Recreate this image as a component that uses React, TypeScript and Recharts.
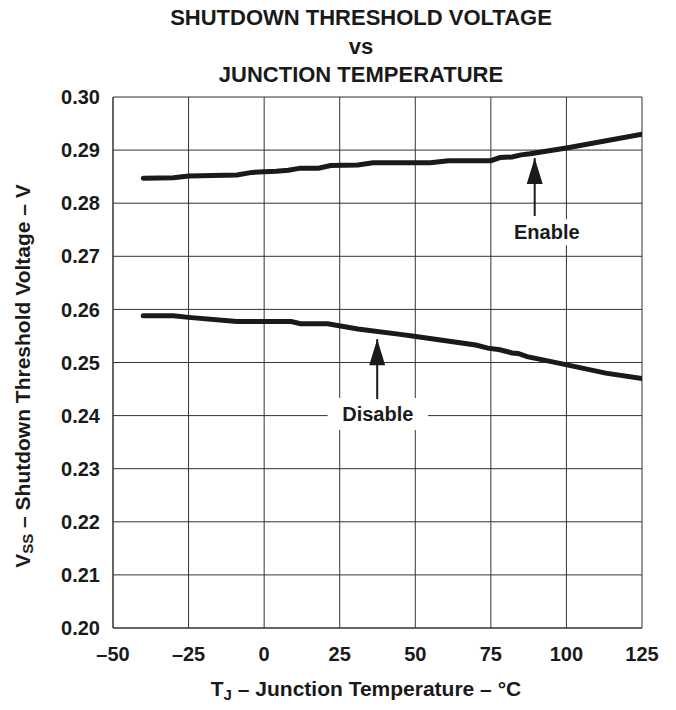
import {
  CartesianGrid,
  Customized,
  Line,
  LineChart,
  ReferenceArea,
  ReferenceDot,
  ReferenceLine,
  XAxis,
  YAxis,
} from "recharts";

// junction temperature (°C) vs shutdown threshold voltage (V)
const enableTemps = [-40, -30, -25, -9, -4, 0, 4, 8, 12, 18, 22, 31, 36, 55, 61, 75, 78, 82, 85, 88, 100, 125];
const enableVolts = [
  0.2847, 0.2848, 0.2851, 0.2853, 0.2858, 0.2859, 0.286, 0.2862, 0.2866, 0.2866, 0.2871,
  0.2872, 0.2876, 0.2876, 0.288, 0.288, 0.2886, 0.2887, 0.2891, 0.2893, 0.2904, 0.293,
];

const disableTemps = [-40, -30, -25, -9, 9, 12, 21, 31, 45, 49, 70, 74, 78, 82, 84, 87, 99, 113, 125];
const disableVolts = [
  0.2588, 0.2588, 0.2585, 0.2577, 0.2577, 0.2573, 0.2573, 0.2563, 0.2553, 0.255, 0.2533,
  0.2527, 0.2524, 0.2518, 0.2517, 0.2511, 0.2497, 0.248, 0.247,
];

const xTicks = [-50, -25, 0, 25, 50, 75, 100, 125];
const yTicks = [0.2, 0.21, 0.22, 0.23, 0.24, 0.25, 0.26, 0.27, 0.28, 0.29, 0.3];

const titleLines = ["SHUTDOWN THRESHOLD VOLTAGE", "vs", "JUNCTION TEMPERATURE"];

// arrow annotations, in data units
const annotations = [
  { text: "Enable", t: 89.5, tip: 0.2885, tail: 0.2776, box: [81, 106, 0.2721, 0.277] },
  { text: "Disable", t: 37.4, tip: 0.2544, tail: 0.2431, box: [21, 54.2, 0.2373, 0.2433] },
];

const enableData = enableTemps.map((t, i) => ({ t, v: enableVolts[i] }));
const disableData = disableTemps.map((t, i) => ({ t, v: disableVolts[i] }));

const FONT = "'Liberation Sans', Arial, Helvetica, sans-serif";
const INK = "#1a1a1a";
const GRID = "#333";

const fmtX = (v: number) => (v < 0 ? `\u2013${Math.abs(v)}` : `${v}`);

const ArrowHead = (props: any) => {
  const { cx, cy } = props;
  return <polygon points={`${cx},${cy} ${cx - 8},${cy + 26} ${cx + 8},${cy + 26}`} fill={INK} />;
};

const Texts = () => (
  <g fontFamily={FONT} fontWeight="bold" fill={INK}>
    {titleLines.map((line, i) => (
      <text key={line} x={361} y={[25, 54, 82][i]} textAnchor="middle" fontSize={22}>
        {line}
      </text>
    ))}
    <text x={30} y={376} textAnchor="middle" fontSize={21} transform="rotate(-90 30 376)">
      V
      <tspan fontSize={15} dy={3}>SS</tspan>
      <tspan dy={-3}> – Shutdown Threshold Voltage – V</tspan>
    </text>
    <text x={366} y={696} textAnchor="middle" fontSize={21}>
      T
      <tspan fontSize={15} dy={4}>J</tspan>
      <tspan dy={-4}> – Junction Temperature – °C</tspan>
    </text>
  </g>
);

const App = () => {
  return (
    <div style={{ position: "absolute", left: 0, top: 0, background: "#fff" }}>
      <LineChart width={676} height={710} margin={{ top: 97, right: 34, bottom: 22, left: 0 }}>
        <CartesianGrid stroke={GRID} strokeWidth={1} />
        <XAxis
          type="number"
          dataKey="t"
          domain={[-50, 125]}
          ticks={xTicks}
          tickFormatter={fmtX}
          height={60}
          tickSize={0}
          tickMargin={19}
          axisLine={{ stroke: GRID }}
          tick={{ fontFamily: FONT, fontWeight: "bold", fontSize: 20, fill: INK }}
          allowDataOverflow
        />
        <YAxis
          type="number"
          dataKey="v"
          domain={[0.2, 0.3]}
          ticks={yTicks}
          tickFormatter={(v: number) => v.toFixed(2)}
          width={113}
          tickSize={0}
          tickMargin={13}
          axisLine={{ stroke: GRID }}
          tick={{ fontFamily: FONT, fontWeight: "bold", fontSize: 20, fill: INK }}
          allowDataOverflow
        />
        {annotations.map((a) => (
          <ReferenceArea
            key={`box-${a.text}`}
            x1={a.box[0]}
            x2={a.box[1]}
            y1={a.box[2]}
            y2={a.box[3]}
            fill="#fff"
            fillOpacity={1}
            stroke="none"
            ifOverflow="visible"
            label={{
              value: a.text,
              position: "center",
              fill: INK,
              fontSize: 20,
              fontWeight: "bold",
              fontFamily: FONT,
            }}
          />
        ))}
        {annotations.map((a) => (
          <ReferenceLine
            key={`shaft-${a.text}`}
            segment={[
              { x: a.t, y: a.tail },
              { x: a.t, y: a.tip },
            ]}
            stroke={INK}
            strokeWidth={2}
            ifOverflow="visible"
          />
        ))}
        {annotations.map((a) => (
          <ReferenceDot key={`head-${a.text}`} x={a.t} y={a.tip} shape={ArrowHead} ifOverflow="visible" />
        ))}
        <Line
          data={enableData}
          dataKey="v"
          type="linear"
          stroke={INK}
          strokeWidth={5}
          dot={false}
          activeDot={false}
          strokeLinecap="round"
          isAnimationActive={false}
        />
        <Line
          data={disableData}
          dataKey="v"
          type="linear"
          stroke={INK}
          strokeWidth={5}
          dot={false}
          activeDot={false}
          strokeLinecap="round"
          isAnimationActive={false}
        />
        <Customized component={Texts} />
      </LineChart>
    </div>
  );
};

export default App;
